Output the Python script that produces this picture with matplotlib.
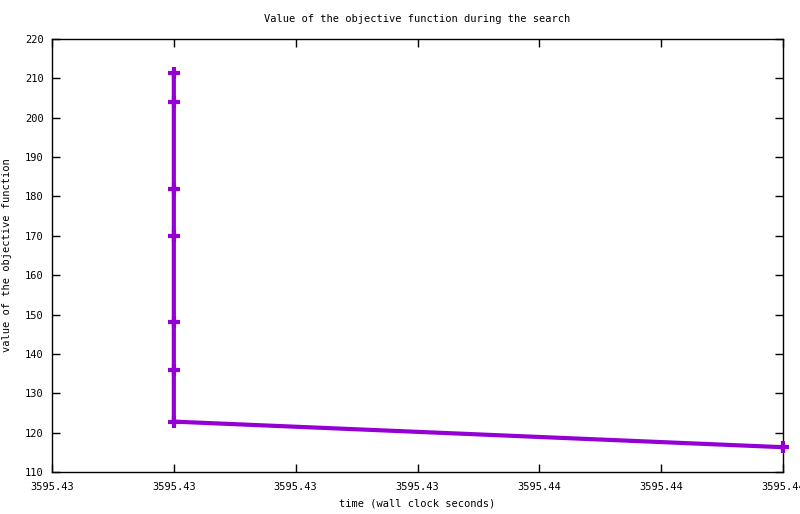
#!/usr/bin/env python3
"""Objective function value over wall clock time (gnuplot-style)."""

import matplotlib

matplotlib.use("Agg")
from matplotlib import pyplot as plt
from matplotlib.ticker import FormatStrFormatter, MultipleLocator

# data
time_s = [3595.43, 3595.43, 3595.43, 3595.43, 3595.43, 3595.43, 3595.43, 3595.4425]
objective = [211.4, 204.0, 181.9, 170.0, 148.1, 135.9, 122.8, 116.3]

x_ticks = [3595.4275, 3595.43, 3595.4325, 3595.435, 3595.4375, 3595.44, 3595.4425]
x_tick_labels = ["3595.43", "3595.43", "3595.43", "3595.43", "3595.44", "3595.44", "3595.44"]

colour = "#9400d3"
plt.rcParams["font.family"] = "DejaVu Sans Mono"
plt.rcParams["font.size"] = 7.5

fig = plt.figure(figsize=(8.0, 5.14), dpi=100)
ax = fig.add_axes([52 / 800, 42 / 514, 731 / 800, 433 / 514])

ax.plot(
    time_s,
    objective,
    color=colour,
    linewidth=3,
    marker="+",
    markersize=8,
    markeredgewidth=3,
    clip_on=False,
    zorder=3,
)

ax.set_xlim(x_ticks[0], x_ticks[-1])
ax.set_ylim(110, 220)
ax.set_xticks(x_ticks)
ax.set_xticklabels(x_tick_labels)
ax.yaxis.set_major_locator(MultipleLocator(10))
ax.yaxis.set_major_formatter(FormatStrFormatter("%d"))

ax.tick_params(
    direction="in", length=6, width=1, top=True, right=True, colors="black"
)
ax.tick_params(axis="x", pad=7)
ax.tick_params(axis="y", pad=6)
for spine in ax.spines.values():
    spine.set_linewidth(1)

ax.set_title("Value of the objective function during the search", pad=12, fontsize=7.5)
ax.set_xlabel("time (wall clock seconds)", labelpad=5)
ax.set_ylabel("value of the objective function", labelpad=9)

fig.savefig("out.png", dpi=100)
